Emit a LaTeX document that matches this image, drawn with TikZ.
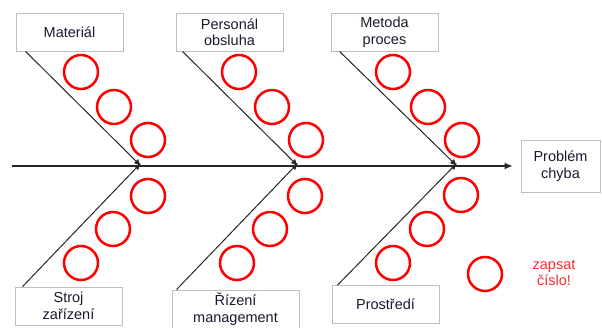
\documentclass[tikz,border=0pt]{standalone}
\usepackage{fontspec}
\setmainfont{Liberation Sans}
\usetikzlibrary{arrows.meta,positioning}
\definecolor{ishRed}{HTML}{FF0000}
\definecolor{ishNote}{HTML}{FF2A2A}
\definecolor{ishGray}{HTML}{BFBFBF}
\definecolor{ishInk}{HTML}{262626}
\definecolor{ishText}{HTML}{1A1A2E}
\tikzset{
  catbox/.style={
    draw=ishGray,
    fill=white,
    line width=0.9pt,
    minimum width=107pt,
    minimum height=38pt,
    inner sep=0pt,
    align=center,
    text=ishText,
    font=\fontsize{14.5}{16.5}\selectfont
  },
  slot/.style={
    circle,
    draw=ishRed,
    line width=2.5pt,
    minimum size=34pt,
    inner sep=0pt
  },
  bone/.style={
    -{Latex[length=7pt,width=6pt]},
    line width=1pt,
    draw=ishInk
  },
  spine/.style={
    -{Latex[length=8pt,width=7pt]},
    line width=1.2pt,
    draw=ishInk
  }
}
\begin{document}
\begin{tikzpicture}[x=1pt,y=-1pt]
\useasboundingbox (0,0) rectangle (602,327);

% categories
\node[catbox] (mat) at (69.5,32) {Materiál};
\node[catbox] (pers) at (229.5,32) {Personál\\obsluha};
\node[catbox] (meth) at (384.5,32) {Metoda\\proces};
\node[catbox] (mach) at (68.5,306) {Stroj\\zařízení};
\node[catbox, minimum width=127pt] (mgmt) at (235.5,309) {Řízení\\management};
\node[catbox] (env) at (385.5,304.5) {Prostředí};
\node[catbox, minimum width=79pt, minimum height=52pt] (prob) at (560.5,166) {Problém\\chyba};

% spine
\coordinate (tail) at (12,166);
\coordinate (jA) at (141,166);
\coordinate (jB) at (298,166);
\coordinate (jC) at (457,166);

\draw[spine] (tail) -- (prob) [shorten >=8pt];

\draw[bone] ([xshift=10pt]mat.south west) -- (jA);
\draw[bone] ([xshift=7pt]pers.south west) -- (jB);
\draw[bone] ([xshift=9pt]meth.south west) -- (jC);
\draw[bone] ([xshift=8pt]mach.north west) -- ([yshift=3pt]jA);
\draw[bone] ([xshift=5pt]mgmt.north west) -- ([yshift=3pt]jB);
\draw[bone] ([xshift=6pt]env.north west) -- ([yshift=3pt]jC);

% circles to fill in
\node[slot] (mat1) at (81,72) {};
\node[slot] (mat2) at (114,107) {};
\node[slot] (mat3) at (148,140) {};
\node[slot] (pers1) at (239,72) {};
\node[slot] (pers2) at (272,107) {};
\node[slot] (pers3) at (306,140) {};
\node[slot] (meth1) at (393,72) {};
\node[slot] (meth2) at (428,107) {};
\node[slot] (meth3) at (462,140) {};
\node[slot] (mach1) at (148,196) {};
\node[slot] (mach2) at (113,229) {};
\node[slot] (mach3) at (81,263) {};
\node[slot] (mgmt1) at (305,196) {};
\node[slot] (mgmt2) at (270,229) {};
\node[slot] (mgmt3) at (237,263) {};
\node[slot] (env1) at (461,195) {};
\node[slot] (env2) at (427,229) {};
\node[slot] (env3) at (393,263) {};

% legend
\node[slot] (key) at (485,274) {};
\node[align=center, text=ishNote, font=\fontsize{14.5}{15.5}\selectfont] (keytext) at (554,273) {zapsat\\číslo!};

\end{tikzpicture}
\end{document}
